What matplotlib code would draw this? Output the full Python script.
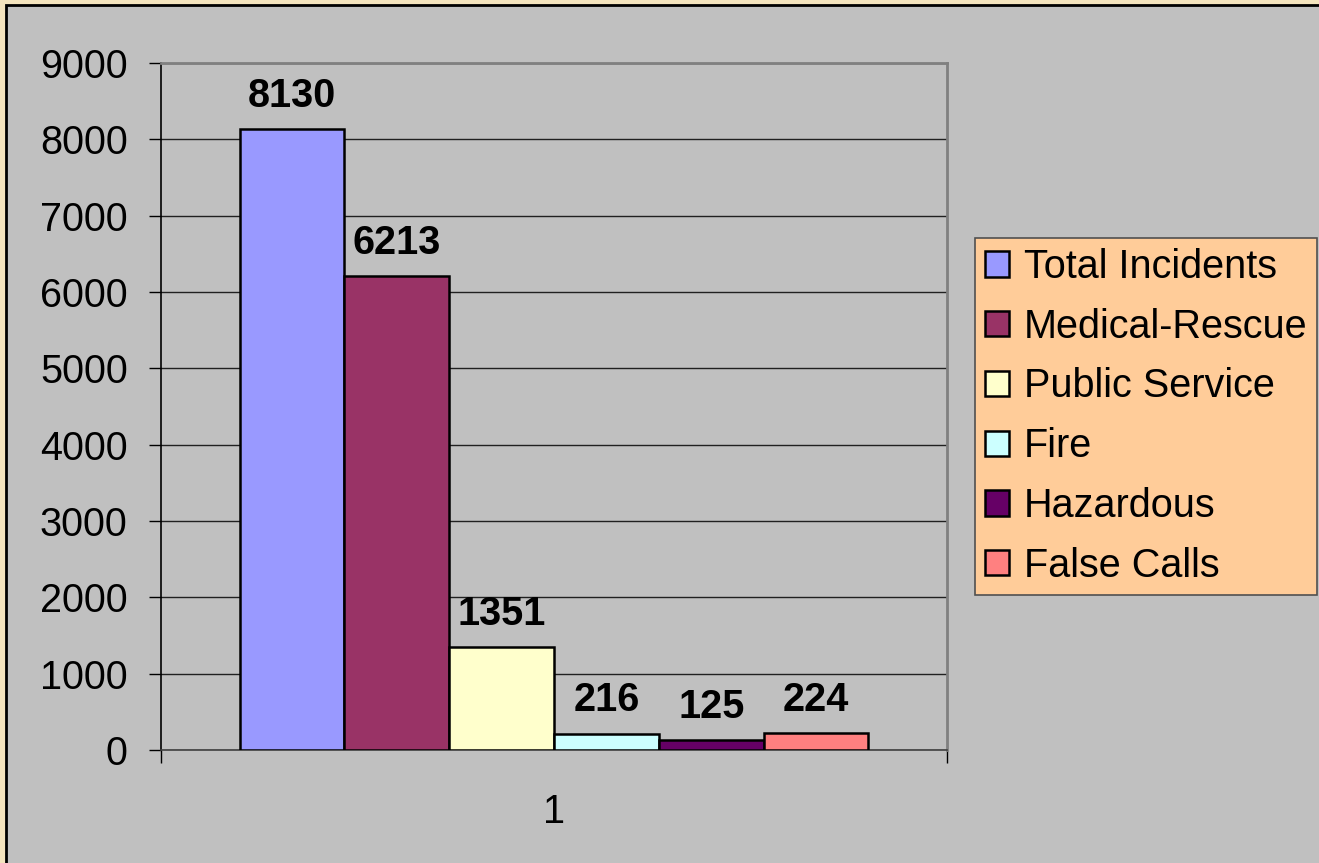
import matplotlib
matplotlib.use("Agg")
import matplotlib.pyplot as plt
from matplotlib.patches import Rectangle, Patch

categories = ["Total Incidents", "Medical-Rescue", "Public Service", "Fire", "Hazardous", "False Calls"]
values = [8130, 6213, 1351, 216, 125, 224]
colors = ["#9999FF", "#993366", "#FFFFCC", "#CCFFFF", "#660066", "#FF8080"]
yticks = [0, 1000, 2000, 3000, 4000, 5000, 6000, 7000, 8000, 9000]
xlabel_text = "1"

W, H = 1319, 863
fig = plt.figure(figsize=(W / 100, H / 100), dpi=100)
fig.patch.set_facecolor("#F4E4BE")
plt.rcParams["font.family"] = ["Liberation Sans", "DejaVu Sans"]

# gray chart area
bg = Rectangle((6 / W, -0.01), 1.02, 1 - 5 / H + 0.01, transform=fig.transFigure,
               facecolor="#C0C0C0", edgecolor="black", linewidth=2, zorder=-5)
fig.patches.append(bg)

ax = fig.add_axes([161 / W, (H - 750) / H, 786 / W, 687 / H])
ax.set_facecolor("#C0C0C0")

n = len(values)
group_w = 0.8
bw = group_w / n
for i, (cat, v, c) in enumerate(zip(categories, values, colors)):
    x = 1 - group_w / 2 + bw * (i + 0.5)
    ax.bar(x, v, width=bw, color=c, edgecolor="black", linewidth=1.8, label=cat, zorder=3)
    ax.annotate(str(v), (x, v), xytext=(0, 16), textcoords="offset points",
                ha="center", va="baseline", fontsize=28.5, fontweight="bold", zorder=4)

ax.set_xlim(0.5, 1.5)
ax.set_ylim(0, 9000)
ax.set_yticks(yticks)
ax.set_yticklabels([str(t) for t in yticks], fontsize=28.5)
ax.yaxis.grid(True, color="#202020", linewidth=1.0, zorder=1)
ax.set_axisbelow(True)
ax.tick_params(axis="y", length=9, width=1, color="black", pad=15, direction="out")

ax.set_xticks([1])
ax.set_xticklabels([xlabel_text], fontsize=28.5)
ax.set_xticks([0.5, 1.5], minor=True)
ax.tick_params(axis="x", which="major", length=0, pad=31)
ax.tick_params(axis="x", which="minor", length=9, width=1, color="black", direction="out")

ax.spines["left"].set_color("black")
ax.spines["left"].set_linewidth(1.2)
ax.spines["bottom"].set_color("#404040")
ax.spines["bottom"].set_linewidth(1.2)
ax.spines["top"].set_color("#808080")
ax.spines["top"].set_linewidth(2)
ax.spines["right"].set_color("#808080")
ax.spines["right"].set_linewidth(2)

handles = [Patch(facecolor=c, edgecolor="black", linewidth=1.8) for c in colors]
leg = fig.legend(handles, categories, loc="upper left",
                 bbox_to_anchor=(975 / W, 1 - 238 / H), fontsize=28.5,
                 frameon=True, fancybox=False, handlelength=0.6, handleheight=0.6,
                 handletextpad=0.38, labelspacing=0.55, borderpad=0.25,
                 borderaxespad=0)
leg.get_frame().set_facecolor("#FFCC99")
leg.get_frame().set_edgecolor("#505050")
leg.get_frame().set_linewidth(1.2)
leg.get_frame().set_alpha(1)

fig.savefig("out.png", dpi=100, facecolor=fig.get_facecolor())
